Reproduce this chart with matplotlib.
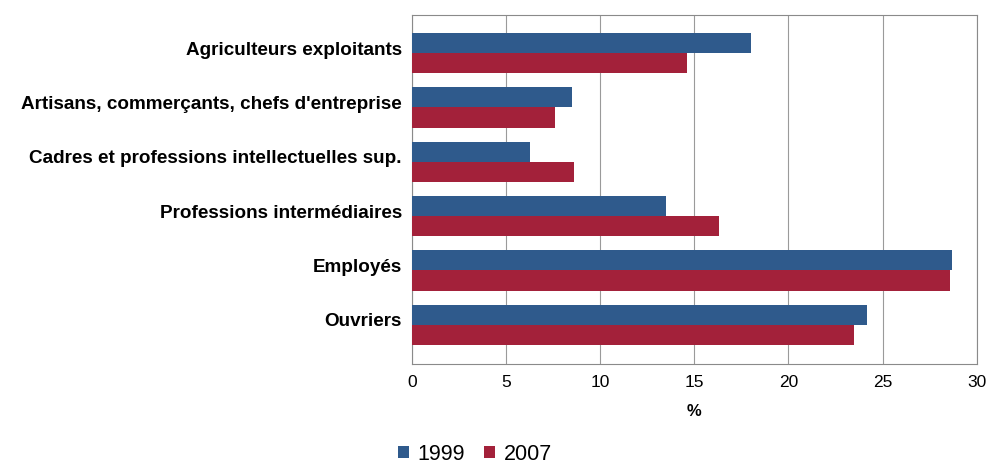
import matplotlib
matplotlib.use("Agg")
import matplotlib.pyplot as plt
import matplotlib.transforms as mtransforms
import numpy as np
from matplotlib.patches import Patch

categories = ["Agriculteurs exploitants",
              "Artisans, commerçants, chefs d'entreprise",
              "Cadres et professions intellectuelles sup.",
              "Professions intermédiaires",
              "Employés",
              "Ouvriers"]
v1999 = [18.0, 8.5, 6.3, 13.5, 28.7, 24.2]
v2007 = [14.6, 7.6, 8.6, 16.3, 28.6, 23.5]
series_names = ["1999", "2007"]
xticks = [0, 5, 10, 15, 20, 25, 30]

c1999 = "#2F5A8C"
c2007 = "#A3213A"

plt.rcParams['font.family'] = ['Liberation Sans', 'DejaVu Sans']

fig = plt.figure(figsize=(9.87, 4.66), dpi=100)
ax = fig.add_axes([411.7/987, 1 - 364/466, (976.7-411.7)/987, (364-15)/466])

y = np.arange(len(categories))
h = 0.37
ax.barh(y - h/2, v1999, height=h, color=c1999, zorder=3)
ax.barh(y + h/2, v2007, height=h, color=c2007, zorder=3)

ax.set_xlim(0, 30)
ax.set_ylim(5.72, -0.70)
ax.set_xticks(xticks)
ax.set_xticklabels([str(t) for t in xticks], fontsize=12.5)
ax.set_yticks(y)
ax.set_yticklabels(categories, fontsize=13.6, fontweight='bold')
ax.tick_params(axis='both', length=0, pad=8)
ax.tick_params(axis='y', pad=7)
offset = mtransforms.ScaledTranslation(0, 5/100, fig.dpi_scale_trans)
for lab in ax.get_yticklabels():
    lab.set_transform(lab.get_transform() + offset)
ax.xaxis.grid(True, color="#9a9a9a", linewidth=0.8, zorder=0)
for s in ax.spines.values():
    s.set_color("#8a8a8a")
    s.set_linewidth(0.8)
ax.set_xlabel("%", fontsize=12, fontweight='bold', labelpad=10)

handles = [Patch(facecolor=c1999), Patch(facecolor=c2007)]
fig.legend(handles, series_names, loc='center', bbox_to_anchor=(475/987, 1 - 454/466),
           ncol=2, frameon=False, fontsize=15.5, handlelength=0.5, handleheight=0.5,
           handletextpad=0.4, columnspacing=0.9, borderpad=0.1)

fig.savefig("out.png", dpi=100)
